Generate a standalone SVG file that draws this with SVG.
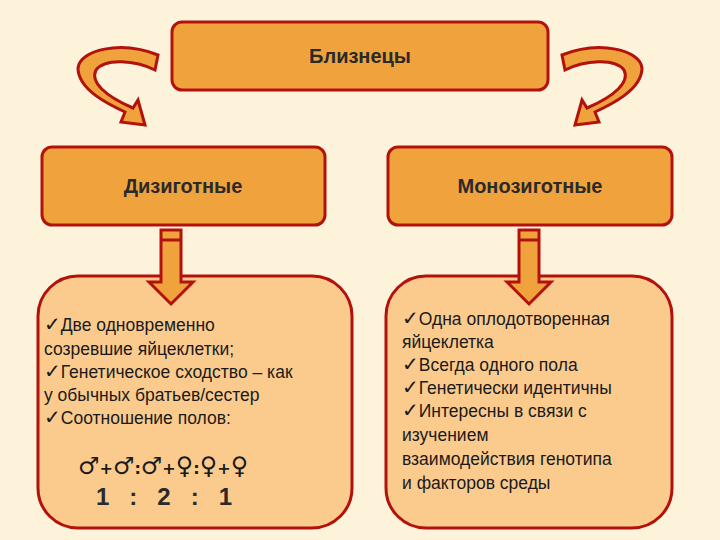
<svg xmlns="http://www.w3.org/2000/svg" width="720" height="540" viewBox="0 0 720 540">
<style>
.box{fill:#f0a23c;stroke:#b3120c;stroke-width:3}
.panel{fill:#fbcb8e;stroke:#b3120c;stroke-width:3}
.h{font-family:"Liberation Sans",Arial,sans-serif;font-size:20px;font-weight:bold;fill:#2a2a2a;text-anchor:middle}
.t{font-family:"Liberation Sans",Arial,sans-serif;font-size:17.5px;fill:#1a1a1a}
.ck{font-family:"DejaVu Sans",sans-serif;font-size:20px;fill:#1a1a1a;font-weight:bold}
.arr{fill:#f0a23c;stroke:#b3120c;stroke-width:3;stroke-linejoin:miter}
</style>
<rect width="720" height="540" fill="#fdf2da"/>
<g id="title"><rect class="box" x="172" y="22" width="376" height="68" rx="10"/><text class="h" x="360" y="63">Близнецы</text></g>
<g id="dizyg"><rect class="box" x="42" y="147" width="283" height="78" rx="10"/><text class="h" x="183" y="193">Дизиготные</text></g>
<g id="monozyg"><rect class="box" x="388" y="147" width="284" height="78" rx="10"/><text class="h" x="530" y="193">Монозиготные</text></g>
<g id="leftpanel">
<rect class="panel" x="38" y="276" width="314" height="252" rx="40"/>
<text class="t"><tspan x="44" y="331" class="ck">✓</tspan><tspan>Две одновременно</tspan>
<tspan x="44" y="355">созревшие яйцеклетки;</tspan>
<tspan x="44" y="378" class="ck">✓</tspan><tspan>Генетическое сходство – как</tspan>
<tspan x="44" y="401">у обычных братьев/сестер</tspan>
<tspan x="44" y="424" class="ck">✓</tspan><tspan>Соотношение полов:</tspan></text>
<text x="78" y="474" font-family="DejaVu Sans,sans-serif" font-size="24" font-weight="bold" fill="#1a1a1a">♂<tspan font-size="16">+</tspan>♂<tspan font-size="16">:</tspan>♂<tspan font-size="16">+</tspan>♀<tspan font-size="16">:</tspan>♀<tspan font-size="16">+</tspan>♀</text>
<text x="96" y="505" font-family="Liberation Sans,Arial,sans-serif" font-size="24" font-weight="bold" fill="#2a2a2a" xml:space="preserve">1   :   2   :   1</text>
</g>
<g id="rightpanel">
<rect class="panel" x="386" y="276" width="286" height="252" rx="40"/>
<text class="t"><tspan x="402" y="325" class="ck">✓</tspan><tspan>Одна оплодотворенная</tspan>
<tspan x="402" y="348">яйцеклетка</tspan>
<tspan x="402" y="371" class="ck">✓</tspan><tspan>Всегда одного пола</tspan>
<tspan x="402" y="394" class="ck">✓</tspan><tspan>Генетически идентичны</tspan>
<tspan x="402" y="417" class="ck">✓</tspan><tspan>Интересны в связи с</tspan>
<tspan x="402" y="441">изучением</tspan>
<tspan x="402" y="465">взаимодействия генотипа</tspan>
<tspan x="402" y="489">и факторов среды</tspan></text>
</g>
<g id="connectors">
<path class="arr" d="M158,55 C120,40 80,50 78,68 C78,90 110,105 125,112 L121,122 L145,125 L138,100 L133,108 C105,96 90,82 96,70 C105,58 135,60 155,70 Z"/>
<path class="arr" d="M562,55 C600,40 640,50 642,68 C642,90 610,105 595,112 L599,122 L575,125 L582,100 L587,108 C615,96 630,82 624,70 C615,58 585,60 565,70 Z"/>
<path class="arr" d="M161,230 L181,230 L181,282 L193,282 L171,304 L149,282 L161,282 Z"/>
<line x1="161" y1="240" x2="181" y2="240" stroke="#b3120c" stroke-width="3"/>
<path class="arr" d="M519,230 L539,230 L539,282 L551,282 L529,304 L507,282 L519,282 Z"/>
<line x1="519" y1="240" x2="539" y2="240" stroke="#b3120c" stroke-width="3"/>
</g>
</svg>
